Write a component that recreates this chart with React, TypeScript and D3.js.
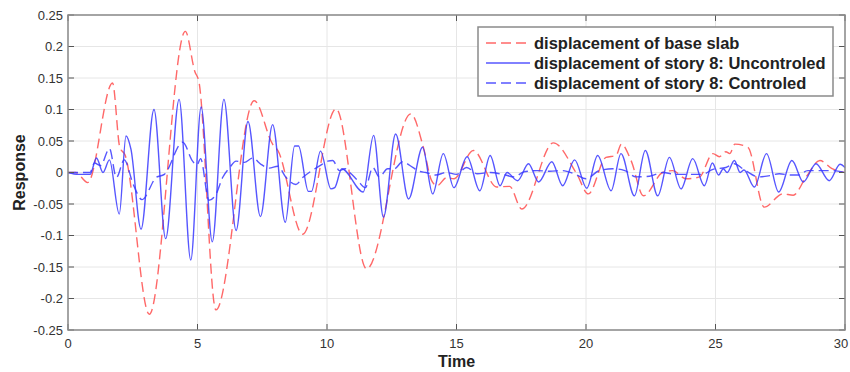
import React from 'react';
import * as d3 from 'd3';

// [time, response] turning points
const baseSlab: [number, number][] = [
  [0, 0], [0.3, 0], [0.76, -0.016], [1.72, 0.142], [2.0, 0.04], [2.2, 0.028], [3.14, -0.225],
  [4.53, 0.224], [4.9, 0.16], [5.05, 0.145], [5.71, -0.218], [7.19, 0.114], [7.9, 0.045],
  [8.1, 0.035], [9.06, -0.098], [10.35, 0.101], [11.53, -0.153], [13.24, 0.093], [13.72, 0.04],
  [14.04, -0.013], [14.25, -0.021], [14.62, -0.008], [14.9, -0.01], [15.65, 0.035],
  [16.55, -0.023], [17.05, -0.022], [17.52, -0.058], [18.74, 0.047], [19.64, -0.002],
  [20.09, -0.034], [20.77, 0.024], [21.16, 0.027], [21.37, 0.045], [21.74, 0.019],
  [22.22, -0.037], [22.96, 0.0], [23.35, 0.003], [23.86, -0.01], [24.38, -0.007],
  [24.9, 0.03], [25.15, 0.025], [25.4, 0.033], [25.55, 0.03], [25.75, 0.045], [26.25, 0.04],
  [26.88, -0.055], [27.6, -0.034], [28.0, -0.036], [28.5, -0.007], [29.03, 0.019],
  [29.5, 0.006], [30, 0.0],
];

const uncontrolled: [number, number][] = [
  [0, 0], [0.4, -0.003], [0.85, -0.003], [1.1, 0.023], [1.35, 0.0], [1.6, 0.02], [1.98, -0.066],
  [2.24, 0.058], [2.43, 0.037], [2.82, -0.09], [3.32, 0.1], [3.77, -0.105], [4.29, 0.116],
  [4.74, -0.139], [5.14, 0.104], [5.57, -0.11], [6.02, 0.116], [6.49, -0.092], [6.95, 0.081],
  [7.43, -0.07], [7.9, 0.076], [8.39, -0.079], [8.75, 0.042], [8.9, 0.042], [9.28, -0.03],
  [9.4, -0.03], [9.75, 0.034], [10.15, -0.026], [10.3, -0.024], [10.57, 0.006], [11.4, -0.031],
  [11.8, 0.059], [12.18, -0.071], [12.65, 0.061], [13.15, -0.042], [13.69, 0.04],
  [14.08, -0.034], [14.49, 0.03], [14.9, -0.024], [15.41, 0.025], [15.9, -0.029],
  [16.3, 0.027], [16.68, -0.021], [16.95, 0.0], [17.36, -0.013], [17.78, 0.014],
  [18.17, -0.015], [18.68, 0.017], [19.1, -0.021], [19.56, 0.02], [20.03, -0.025],
  [20.45, 0.027], [20.97, -0.029], [21.35, 0.03], [21.87, -0.037], [22.29, 0.035],
  [22.77, -0.037], [23.22, 0.024], [23.67, -0.026], [24.12, 0.022], [24.57, -0.021],
  [24.88, 0.015], [25.12, -0.004], [25.3, 0.006], [25.45, 0.0], [25.73, 0.019], [25.95, 0.0],
  [26.1, 0.004], [26.5, -0.023], [26.97, 0.03], [27.44, -0.031], [27.95, 0.019],
  [28.39, -0.015], [28.88, 0.014], [29.39, -0.013], [29.81, 0.013], [30, 0.008],
];

const controlled: [number, number][] = [
  [0, 0], [0.85, 0], [1.02, 0.015], [1.26, 0.011], [1.6, 0.038], [1.87, -0.008], [2.17, 0.02],
  [2.52, -0.019], [2.86, -0.043], [3.4, -0.008], [3.72, -0.003], [4.43, 0.048], [4.81, 0.018],
  [4.98, 0.012], [5.12, 0.022], [5.44, -0.044], [5.71, -0.035], [5.97, -0.008], [6.23, 0.007],
  [6.49, 0.018], [6.81, 0.016], [7.13, 0.023], [7.45, 0.013], [7.77, 0.007], [8.1, 0.01],
  [8.42, -0.008], [8.8, -0.019], [9.06, -0.008], [9.38, 0.002], [9.7, 0.01], [10.03, 0.018],
  [10.22, 0.019], [10.48, 0.003], [10.7, 0.006], [10.93, -0.002], [11.19, -0.013],
  [11.48, -0.024], [11.77, 0.008], [12.02, -0.007], [12.34, 0.006], [12.6, 0.006],
  [12.92, 0.017], [13.31, 0.008], [13.55, 0.002], [13.82, 0.0], [14.2, -0.004], [14.6, 0.0],
  [15.0, -0.003], [15.39, 0.008], [15.8, -0.002], [16.3, 0.0], [16.8, -0.003], [17.23, -0.007],
  [17.6, 0.001], [18.1, 0.003], [18.6, 0.002], [19.1, 0.003], [19.6, -0.003], [20.0, -0.01],
  [20.51, 0.003], [21.03, 0.006], [21.5, 0.003], [21.93, -0.007], [22.45, -0.006],
  [22.96, 0.0], [23.5, -0.003], [24.0, -0.003], [24.5, -0.003], [24.9, 0.005], [25.4, 0.008],
  [25.73, 0.014], [26.05, 0.006], [26.69, -0.007], [27.1, -0.005], [27.46, -0.002],
  [27.9, -0.004], [28.2, -0.004], [28.56, 0.003], [29.0, 0.003], [29.5, 0.003], [30, 0.0],
];

const xTicks = [0, 5, 10, 15, 20, 25, 30];
const yTicks = [-0.25, -0.2, -0.15, -0.1, -0.05, 0, 0.05, 0.1, 0.15, 0.2, 0.25];
const legendLabels = [
  'displacement of base slab',
  'displacement of story 8: Uncontroled',
  'displacement of story 8: Controled',
];

const RED = '#ff4d4d';
const BLUE = '#3838ff';

export default function App() {
  const width = 850;
  const height = 372;
  const margin = { top: 15, right: 5, bottom: 42, left: 68 };
  const x0 = margin.left;
  const x1 = width - margin.right;
  const y0 = margin.top;
  const y1 = height - margin.bottom;

  const x = d3.scaleLinear().domain([0, 30]).range([x0, x1]);
  const y = d3.scaleLinear().domain([-0.25, 0.25]).range([y1, y0]);

  const line = d3.line<[number, number]>()
    .x(d => x(d[0]))
    .y(d => y(d[1]))
    .curve(d3.curveMonotoneX);

  const font = '"Liberation Sans", Arial, Helvetica, sans-serif';
  const series = [
    { data: baseSlab, color: RED, dash: '10,5' },
    { data: uncontrolled, color: BLUE, dash: null },
    { data: controlled, color: BLUE, dash: '10,5' },
  ];

  const legend = { x: 478, y: 27, w: 355, h: 69 };

  return (
    <svg width={width} height={height} style={{ position: 'absolute', left: 0, top: 0, background: '#fff' }}>
      <rect x={0} y={0} width={width} height={height} fill="#fff" />
      {/* grid */}
      {yTicks.map(t => (
        <line key={'gy' + t} x1={x0} x2={x1} y1={y(t)} y2={y(t)} stroke="#e6e6e6" strokeWidth={1} />
      ))}
      {xTicks.map(t => (
        <line key={'gx' + t} x1={x(t)} x2={x(t)} y1={y0} y2={y1} stroke="#e6e6e6" strokeWidth={1} />
      ))}

      {/* series */}
      <g>
        {series.map((s, i) => (
          <path
            key={i}
            d={line(s.data) || ''}
            fill="none"
            stroke={s.color}
            strokeOpacity={0.85}
            strokeWidth={1.4}
            strokeDasharray={s.dash || undefined}
          />
        ))}
      </g>

      {/* ticks */}
      {yTicks.map(t => (
        <g key={'ty' + t}>
          <line x1={x0} x2={x0 + 6} y1={y(t)} y2={y(t)} stroke="#555" />
          <line x1={x1} x2={x1 - 6} y1={y(t)} y2={y(t)} stroke="#555" />
          <text x={x0 - 5} y={y(t)} dy="0.35em" textAnchor="end" fontFamily={font} fontSize={13} fill="#333">
            {t === 0 ? '0' : String(t)}
          </text>
        </g>
      ))}
      {xTicks.map(t => (
        <g key={'tx' + t}>
          <line x1={x(t)} x2={x(t)} y1={y1} y2={y1 - 6} stroke="#555" />
          <line x1={x(t)} x2={x(t)} y1={y0} y2={y0 + 6} stroke="#555" />
          <text x={Math.min(x(t), width - 9)} y={y1 + 18} textAnchor="middle" fontFamily={font} fontSize={13} fill="#333">
            {t}
          </text>
        </g>
      ))}

      {/* box */}
      <rect x={x0} y={y0} width={x1 - x0} height={y1 - y0} fill="none" stroke="#8a8a8a" strokeWidth={1.5} />

      {/* axis labels */}
      <text x={(x0 + x1) / 2} y={367} textAnchor="middle" fontFamily={font} fontSize={16} fontWeight="bold" fill="#222">
        Time
      </text>
      <text transform={`translate(25,${(y0 + y1) / 2}) rotate(-90)`} textAnchor="middle" fontFamily={font} fontSize={16} fontWeight="bold" fill="#222">
        Response
      </text>

      {/* legend */}
      <rect x={legend.x} y={legend.y} width={legend.w} height={legend.h} fill="#fff" stroke="#8a8a8a" strokeWidth={1.5} />
      {legendLabels.map((lab, i) => {
        const cy = legend.y + 16 + i * 20;
        const s = series[i];
        return (
          <g key={lab}>
            <line x1={486} x2={530} y1={cy} y2={cy} stroke={s.color} strokeOpacity={0.85} strokeWidth={1.4} strokeDasharray={s.dash || undefined} />
            <text x={534} y={cy} dy="0.36em" fontFamily={font} fontSize={16.5} fontWeight="bold" fill="#222">
              {lab}
            </text>
          </g>
        );
      })}
    </svg>
  );
}
